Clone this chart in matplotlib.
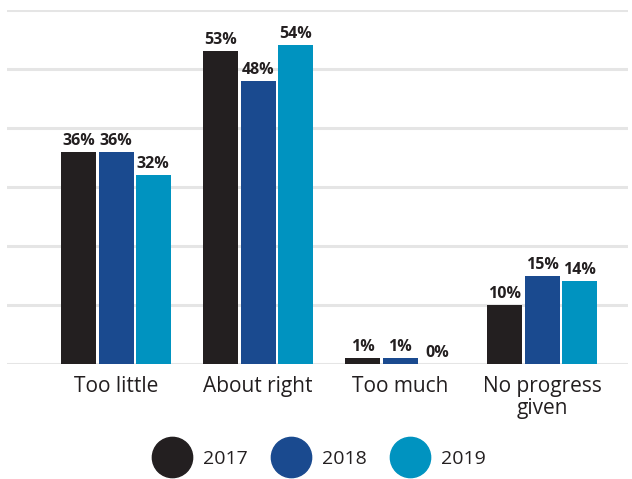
import matplotlib
matplotlib.use("Agg")
import matplotlib.pyplot as plt
from matplotlib.lines import Line2D
import numpy as np

plt.rcParams['font.family'] = ['Open Sans', 'DejaVu Sans']

categories = ["Too little", "About right", "Too much", "No progress\ngiven"]
years = ["2017", "2018", "2019"]
v2017 = [36, 53, 1, 10]
v2018 = [36, 48, 1, 15]
v2019 = [32, 54, 0, 14]
series = [v2017, v2018, v2019]
colors = ["#231f20", "#1a4a8f", "#0093c0"]
text_color = "#231f20"

fig = plt.figure(figsize=(6.32, 4.79), dpi=100)
ax = fig.add_axes([7/632, (479-364)/479, 621/632, 354/479])

x = np.arange(len(categories))
width = 0.246
offset = 0.262
for i, (vals, c) in enumerate(zip(series, colors)):
    pos = x + (i - 1) * offset
    ax.bar(pos, vals, width=width, color=c, zorder=3)
    for p, v in zip(pos, vals):
        ax.text(p, v + 0.5, f"{v}%", ha="center", va="bottom",
                fontsize=11.5, fontweight="bold", color=text_color, zorder=4)

ax.set_xlim(-0.768, 3.605)
ax.set_ylim(0, 60)
ax.set_yticks(np.arange(0, 61, 10))
ax.yaxis.grid(True, color="#e5e5e5", linewidth=2.2, zorder=0)
ax.tick_params(axis="y", left=False, labelleft=False)
ax.tick_params(axis="x", bottom=False, pad=5)
ax.set_xticks(x)
ax.set_xticklabels(categories, fontsize=15, color=text_color, linespacing=1.08)
for s in ax.spines.values():
    s.set_visible(False)

handles = [Line2D([], [], marker="o", linestyle="none", markersize=29,
                  markerfacecolor=c, markeredgecolor=c) for c in colors]
leg = fig.legend(handles, years, loc="center", bbox_to_anchor=(0.508, 0.042),
                 ncol=3, frameon=False, fontsize=14, handletextpad=0.8,
                 columnspacing=1.42, handlelength=1.6)
for t in leg.get_texts():
    t.set_color(text_color)

fig.savefig("out.png", dpi=100)
